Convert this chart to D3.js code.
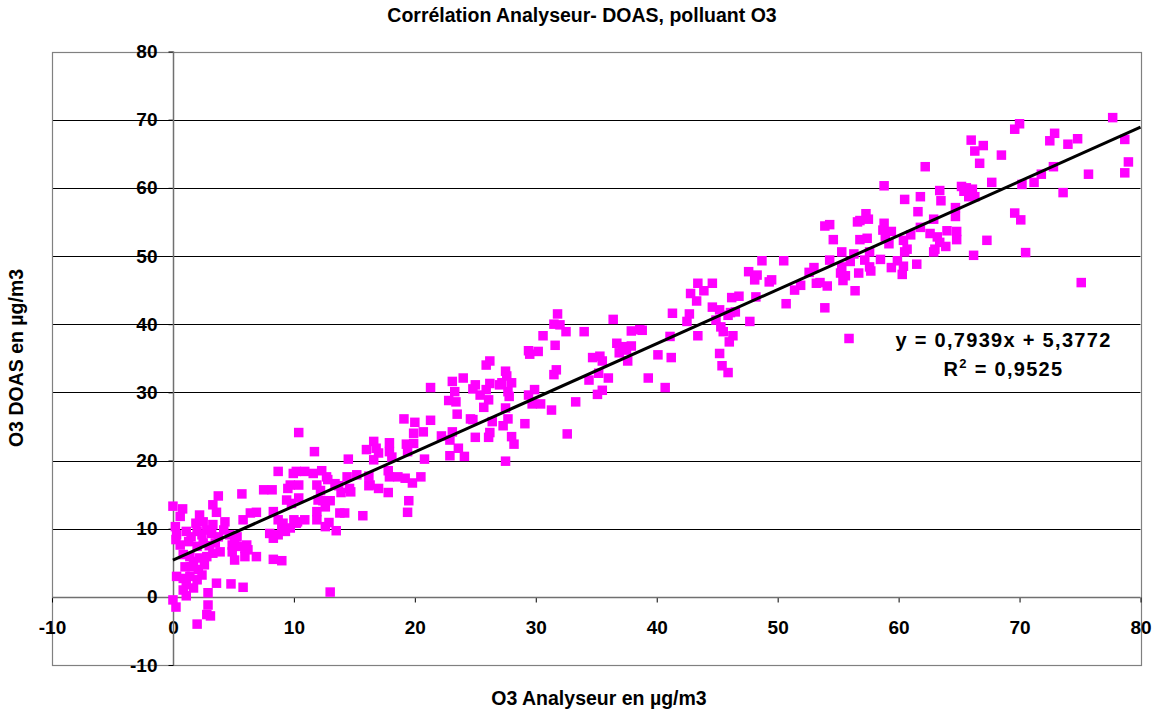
<!DOCTYPE html>
<html lang="fr">
<head>
    <meta charset="UTF-8">
    <title>Corrélation Analyseur- DOAS, polluant O3</title>
    <script src="https://d3js.org/d3.v7.min.js"></script>
    <style>
        body { margin: 0; background: #ffffff; }
        text { font-family: "Liberation Sans", Arial, sans-serif; font-weight: bold; fill: #000; }
        .tick line { stroke: #000; }
        .tick text { font-size: 19px; font-family: "Liberation Sans", Arial, sans-serif; font-weight: bold; }
    </style>
</head>
<body>
    <svg id="chart" width="1162" height="713"></svg>
    <script>
        // Titles
        const chartTitle = "Corrélation Analyseur- DOAS, polluant O3";
        const xTitle = "O3 Analyseur en µg/m3";
        const yTitle = "O3 DOAS en µg/m3";

        // Axis ticks
        const xTicks = [-10, 0, 10, 20, 30, 40, 50, 60, 70, 80];
        const yTicks = [-10, 0, 10, 20, 30, 40, 50, 60, 70, 80];

        // Linear regression (Excel trendline)
        const slope = 0.7939;
        const intercept = 5.3772;
        const r2 = 0.9525;

        const mesures = [
            [77.7,70.3],[70.0,69.4],[69.6,68.6],[72.9,68.0],[72.5,66.9],[78.7,67.1],[74.8,67.2],[74.0,66.4],[66.0,67.0],[67.0,66.2],
            [66.3,65.4],[68.5,64.8],[66.7,63.6],[79.0,63.8],[75.7,62.0],[78.7,62.2],[72.8,63.1],[71.8,62.0],[71.2,60.8],[70.2,60.5],
            [67.7,60.8],[66.1,59.8],[66.3,58.7],[73.6,59.3],[69.6,56.3],[70.1,55.3],[67.3,52.3],[66.2,50.1],[70.5,50.5],[75.1,46.1],
            [62.2,63.1],[58.8,60.3],[65.2,60.2],[65.6,60.0],[65.4,59.5],[63.4,59.6],[61.8,58.7],[60.5,58.3],[63.5,58.1],[65.8,58.7],
            [64.7,57.1],[61.6,56.5],[57.3,56.2],[57.5,55.4],[56.6,55.0],[56.8,55.2],[64.7,55.8],[62.9,55.4],[54.3,54.6],[53.9,54.4],
            [58.8,54.8],[58.7,53.8],[59.4,53.6],[58.9,52.8],[61.8,54.2],[64.0,53.7],[64.8,53.6],[62.6,53.3],[63.2,52.8],[54.6,52.4],
            [56.8,52.4],[57.4,52.6],[60.4,52.3],[61.0,53.1],[64.8,52.4],[59.2,51.8],[63.4,52.0],[63.9,51.4],[63.0,51.0],[60.7,51.0],
            [60.5,50.6],[55.3,50.6],[56.3,50.3],[57.6,50.6],[62.9,50.6],[54.3,49.4],[57.2,49.4],[58.5,49.5],[59.9,49.3],[61.5,48.8],
            [55.3,48.4],[55.2,47.5],[55.6,47.1],[55.4,46.4],[56.7,47.5],[57.6,48.4],[57.7,47.8],[59.4,48.3],[60.4,48.5],[60.3,47.3],
            [54.1,45.6],[56.4,44.9],[53.9,42.4],[55.9,37.9],
            [56.0,49.2],[48.7,49.3],[50.5,49.3],[47.6,47.7],[48.3,47.2],[48.1,46.5],[49.3,46.2],[49.5,46.5],[53.0,48.3],[52.6,47.6],
            [51.9,45.7],[51.4,45.0],[53.2,46.0],[53.5,46.1],[43.4,46.0],[44.6,46.0],[43.9,44.9],[42.8,44.5],[43.3,43.4],[46.2,43.9],
            [46.8,44.1],[48.2,44.0],[50.7,43.0],[44.6,42.5],[45.2,42.1],[46.1,41.7],[46.5,41.8],[45.9,41.3],[41.3,41.6],[42.7,41.5],
            [42.5,40.4],[44.9,40.6],[45.3,39.6],[45.5,38.9],[47.7,40.4],[46.3,38.3],[46.0,37.4],[43.4,38.3],[41.1,38.2],[38.8,39.1],
            [45.2,35.7],[45.4,33.9],[45.9,32.9],[40.1,35.5],[41.2,35.1],[39.3,32.1],[40.7,30.7],
            [31.8,41.5],[31.5,40.0],[32.0,39.9],[32.5,38.9],[36.4,40.7],[34.0,38.9],[37.9,39.0],[38.6,39.2],[30.6,38.3],[31.6,36.9],
            [36.7,37.2],[37.2,36.7],[37.9,36.8],[36.9,35.8],[37.5,36.2],[29.4,36.1],[30.2,36.0],[29.5,35.6],[34.7,35.1],[35.3,35.3],
            [35.5,34.6],[37.6,34.6],[26.2,34.6],[25.9,34.0],[31.7,33.3],[31.5,32.6],[27.5,33.1],[27.6,32.4],[35.2,32.8],[34.4,31.8],
            [36.0,32.1],[24.0,32.1],[25.0,31.1],[26.2,31.3],[27.0,31.1],[28.0,31.4],[27.2,31.4],[24.8,30.5],[25.9,30.4],[25.4,29.6],
            [27.7,30.1],[27.8,29.4],[29.9,30.4],[29.4,29.6],[35.5,30.3],[35.1,29.7],[26.1,28.9],[25.7,27.8],[27.5,27.7],[29.7,28.3],
            [30.4,28.3],[31.3,27.4],[33.3,28.6],[24.6,26.1],[24.8,26.0],[26.4,25.7],[27.7,26.1],[27.3,25.1],[29.1,25.4],[26.2,24.1],
            [26.1,23.4],[25.0,23.4],[28.0,23.5],[28.2,22.4],[32.6,23.9],[24.1,20.6],[27.5,19.9],
            [21.3,30.7],[23.1,31.6],[23.3,30.1],[22.8,28.8],[23.4,28.6],[23.5,26.8],[19.1,26.1],[20.0,25.6],[21.3,25.9],[10.4,24.1],
            [19.9,24.0],[20.7,24.2],[22.2,23.6],[23.1,24.2],[16.6,22.8],[17.9,22.6],[19.3,22.4],[19.9,22.5],[22.9,23.0],[16.0,21.6],
            [16.8,21.8],[17.0,21.1],[17.9,21.3],[18.1,20.5],[16.6,20.1],[19.4,21.3],[23.6,21.8],[22.9,20.7],[20.8,20.2],[14.5,20.2],
            [12.3,18.5],[12.7,17.6],[12.8,17.2],[14.4,17.6],[15.2,17.9],[16.2,17.7],[16.2,16.3],[17.8,18.5],[17.9,17.6],[18.6,17.6],
            [19.2,17.4],[19.8,16.7],[20.5,17.6],[12.2,15.6],[13.4,16.6],[13.7,16.3],[14.6,15.9],[14.7,15.4],[16.3,16.4],[17.0,15.9],
            [17.8,15.3],[12.4,14.1],[13.0,14.1],[12.6,13.2],[13.9,15.3],[19.5,14.1],[19.4,12.4],[13.8,12.3],[14.2,12.3],[15.7,11.9],
            [12.9,10.9],[12.6,10.3],[13.5,9.7],[13.0,0.7],[11.7,21.3],
            [8.7,18.4],[9.95,18.1],[10.2,18.4],[10.9,18.4],[11.6,18.1],[9.7,16.4],[10.4,16.4],[11.9,16.4],[9.5,15.9],[7.5,15.7],
            [8.2,15.7],[5.7,15.1],[3.75,14.8],[9.4,14.2],[9.8,13.7],[10.4,14.5],[12.0,14.2],[0,13.3],[0.8,12.9],[0.6,11.8],
            [3.3,13.5],[3.6,12.4],[2.2,12.0],[6.4,12.3],[6.9,12.4],[5.8,11.3],[8.3,12.5],[8.7,11.3],[9.1,10.8],[10.0,11.3],
            [10.3,11.0],[11.9,12.5],[1.9,10.8],[2.5,11.0],[3.3,10.6],[4.3,11.0],[4.2,9.8],[0.2,10.3],[0.3,9.1],[0.25,8.4],
            [1.1,9.6],[1.5,8.8],[2.0,9.6],[2.4,9.1],[2.8,9.8],[3.2,9.3],[3.75,8.8],[4.7,9.1],[5.3,8.8],[5.1,8.1],
            [4.9,7.6],[8.0,9.3],[8.3,8.6],[8.7,9.1],[9.0,10.1],[9.3,9.6],[9.7,10.1],[10.2,10.8],[10.9,11.3],[11.9,11.3],
            [0.6,7.6],[1.3,8.1],[2.0,7.4],[2.5,7.9],[3.0,7.5],[3.5,7.9],[3.9,6.6],[3.3,6.4],[5.5,7.4],[5.95,7.1],
            [6.1,7.6],[6.2,6.9],[4.9,6.6],[5.1,5.4],[5.95,5.9],[6.9,5.9],[8.3,5.5],[9.0,5.3],[0.85,6.2],[1.4,5.9],
            [1.7,5.2],[2.2,5.7],[2.8,5.9],[1.0,4.4],[1.5,4.4],[2.1,4.0],[2.6,4.7],[0.3,3.0],[0.85,2.7],[1.4,3.0],
            [2.0,2.5],[2.4,3.2],[1.1,1.8],[0.85,1.0],[1.7,1.3],[1.1,0.15],[3.6,2.0],[4.8,1.9],[5.8,1.4],[2.9,0.6],
            [0,-0.45],[0.25,-1.5],[2.9,-1.2],[2.8,-2.6],[3.1,-2.8],[2.0,-4.0]
        ];

        const svg = d3.select("#chart");

        // Plot area
        const x = d3.scaleLinear().domain([-10, 80]).range([52, 1140.5]);
        const y = d3.scaleLinear().domain([-10, 80]).range([665, 51.5]);

        // Horizontal gridlines
        svg.append("g")
            .selectAll("line")
            .data(yTicks.filter(d => d > 0 && d < 80))
            .enter().append("line")
            .attr("x1", x(-10))
            .attr("x2", x(80))
            .attr("y1", d => Math.round(y(d)) + 0.5)
            .attr("y2", d => Math.round(y(d)) + 0.5)
            .attr("stroke", "#000")
            .attr("stroke-width", 1);

        // Plot border
        svg.append("rect")
            .attr("x", Math.round(x(-10)) + 0.5)
            .attr("y", Math.round(y(80)) + 0.5)
            .attr("width", Math.round(x(80)) - Math.round(x(-10)))
            .attr("height", Math.round(y(-10)) - Math.round(y(80)))
            .attr("fill", "none")
            .attr("stroke", "#808080")
            .attr("stroke-width", 1.2);

        // plain hyphen for negatives, as in the original
        const tickFmt = d => String(d);

        // X axis crossing at y = 0
        const xAxis = svg.append("g")
            .attr("transform", `translate(0,${Math.round(y(0)) + 0.5})`)
            .call(d3.axisBottom(x).tickValues(xTicks).tickFormat(tickFmt).tickSize(5).tickSizeOuter(0).tickPadding(18));
        xAxis.select(".domain").remove();
        xAxis.append("line")
            .attr("x1", x(-10)).attr("x2", x(80))
            .attr("stroke", "#707070").attr("stroke-width", 1.5);

        // Y axis crossing at x = 0
        const yAxis = svg.append("g")
            .attr("transform", `translate(${Math.round(x(0)) + 0.5},0)`)
            .call(d3.axisLeft(y).tickValues(yTicks).tickFormat(tickFmt).tickSize(5).tickSizeOuter(0).tickPadding(11));
        yAxis.select(".domain").remove();
        yAxis.append("line")
            .attr("y1", y(-10)).attr("y2", y(80))
            .attr("stroke", "#707070").attr("stroke-width", 1.5);

        svg.selectAll(".tick text").attr("fill", "#000");

        // Points
        const size = 9.5;
        svg.append("g")
            .selectAll("rect")
            .data(mesures)
            .enter().append("rect")
            .attr("x", d => x(d[0]) - size / 2)
            .attr("y", d => y(d[1]) - size / 2)
            .attr("width", size)
            .attr("height", size)
            .attr("fill", "#ff00ff");

        // Trendline
        svg.append("line")
            .attr("x1", x(0))
            .attr("y1", y(intercept))
            .attr("x2", x(80))
            .attr("y2", y(slope * 80 + intercept))
            .attr("stroke", "#000")
            .attr("stroke-width", 3);

        // Equation
        const fmt = v => String(v).replace(".", ",");
        const eq = svg.append("g").attr("text-anchor", "middle").style("font-size", "20px");
        eq.append("text")
            .attr("x", 1003.5).attr("y", 347)
            .style("letter-spacing", "1.3px")
            .text(`y = ${fmt(slope)}x + ${fmt(intercept)}`);
        const r2Text = eq.append("text")
            .attr("x", 1003.5).attr("y", 376)
            .style("letter-spacing", "1.3px");
        r2Text.append("tspan").text("R");
        r2Text.append("tspan").attr("dy", -8).style("font-size", "13px").text("2");
        r2Text.append("tspan").attr("dy", 8).text(` = ${fmt(r2)}`);

        // Titles
        svg.append("text")
            .attr("x", 582).attr("y", 22)
            .attr("text-anchor", "middle")
            .style("font-size", "19.5px")
            .text(chartTitle);

        svg.append("text")
            .attr("x", 599).attr("y", 705)
            .attr("text-anchor", "middle")
            .style("font-size", "19.5px")
            .text(xTitle);

        svg.append("text")
            .attr("transform", "translate(23,358) rotate(-90)")
            .attr("text-anchor", "middle")
            .style("font-size", "19.5px")
            .text(yTitle);
    </script>
</body>
</html>
